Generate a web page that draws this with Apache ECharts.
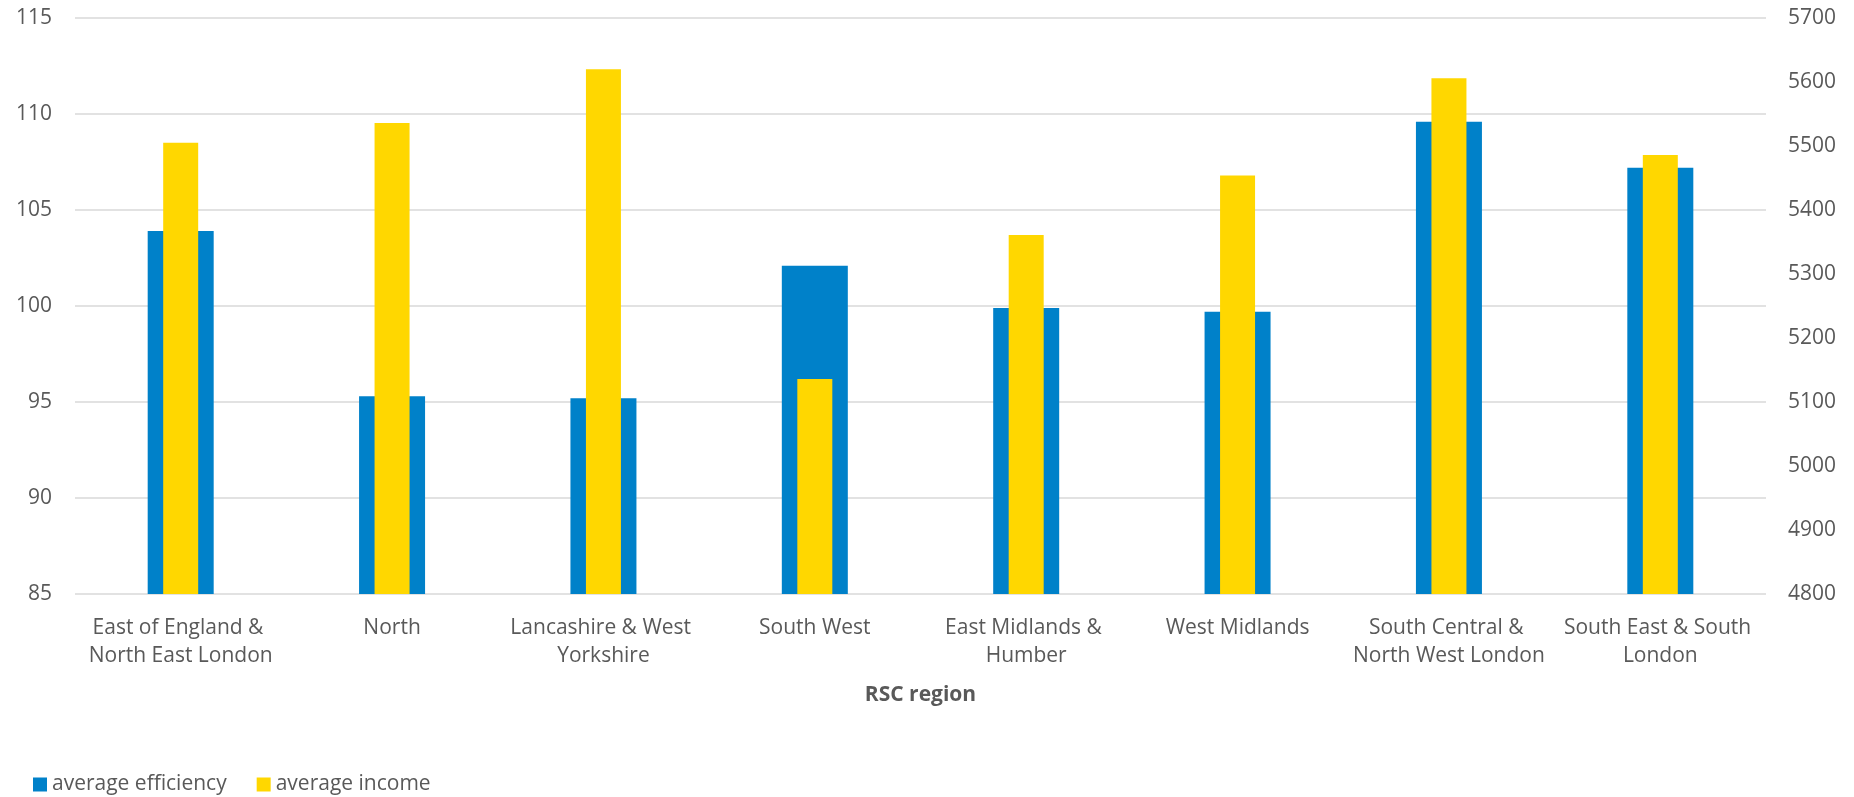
<!DOCTYPE html>
<html>
<head>
<meta charset="utf-8">
<script src="https://cdn.jsdelivr.net/npm/echarts@6/dist/echarts.min.js"></script>
<style>
  html, body { margin: 0; padding: 0; background: #fff; }
  #main { width: 1854px; height: 797px; }
</style>
</head>
<body>
<div id="main"></div>
<script>
// RSC regions
const categories = [
  'East of England & North East London',
  'North',
  'Lancashire & West Yorkshire',
  'South West',
  'East Midlands & Humber',
  'West Midlands',
  'South Central & North West London',
  'South East & South London'
]
// average efficiency (left axis)
const efficiency = [103.9, 95.3, 95.2, 102.1, 99.9, 99.7, 109.6, 107.2]
// average income (right axis)
const income = [5505, 5536, 5620, 5136, 5361, 5454, 5606, 5486]

const textColor = '#595959'
const font = '"Open Sans", "Liberation Sans", sans-serif'

const chart = echarts.init(document.getElementById('main'))

const option = {
  animation: false,
  textStyle: { fontFamily: font },
  grid: {
    left: 75,
    right: 88,
    top: 18,
    bottom: 203,
    outerBoundsMode: 'none'
  },
  legend: {
    left: 33,
    top: 774,
    padding: 0,
    icon: 'rect',
    itemWidth: 14,
    itemHeight: 14,
    itemGap: 30,
    textStyle: { color: textColor, fontSize: 21, fontFamily: font, lineHeight: 21 },
    data: ['average efficiency', 'average income']
  },
  xAxis: [
    {
      type: 'category',
      data: categories,
      name: 'RSC region',
      nameLocation: 'middle',
      nameGap: 91,
      nameTextStyle: { color: textColor, fontSize: 21, fontWeight: 'bold', fontFamily: font },
      axisLine: { show: false },
      axisTick: { show: false },
      axisLabel: {
        interval: 0,
        color: textColor,
        fontSize: 21,
        lineHeight: 28,
        margin: 20,
        width: 205,
        overflow: 'break',
        fontFamily: font
      }
    },
    {
      type: 'category',
      data: categories,
      show: false
    }
  ],
  yAxis: [
    {
      type: 'value',
      min: 85,
      max: 115,
      interval: 5,
      axisLine: { show: false },
      axisTick: { show: false },
      axisLabel: { color: textColor, fontSize: 21, margin: 23, fontFamily: font },
      splitLine: { lineStyle: { color: '#d9d9d9', width: 1.5 } }
    },
    {
      type: 'value',
      min: 4800,
      max: 5700,
      interval: 100,
      position: 'right',
      axisLine: { show: false },
      axisTick: { show: false },
      axisLabel: {
        color: textColor,
        fontSize: 21,
        margin: 22,
        fontFamily: font,
        formatter: function (v) { return String(v) }
      },
      splitLine: { show: false }
    }
  ],
  series: [
    {
      name: 'average efficiency',
      type: 'bar',
      xAxisIndex: 0,
      yAxisIndex: 0,
      barWidth: 66,
      itemStyle: { color: '#0081c9' },
      data: efficiency
    },
    {
      name: 'average income',
      type: 'bar',
      xAxisIndex: 1,
      yAxisIndex: 1,
      barWidth: 35,
      itemStyle: { color: '#ffd700' },
      data: income
    }
  ]
}

chart.setOption(option)
</script>
</body>
</html>
